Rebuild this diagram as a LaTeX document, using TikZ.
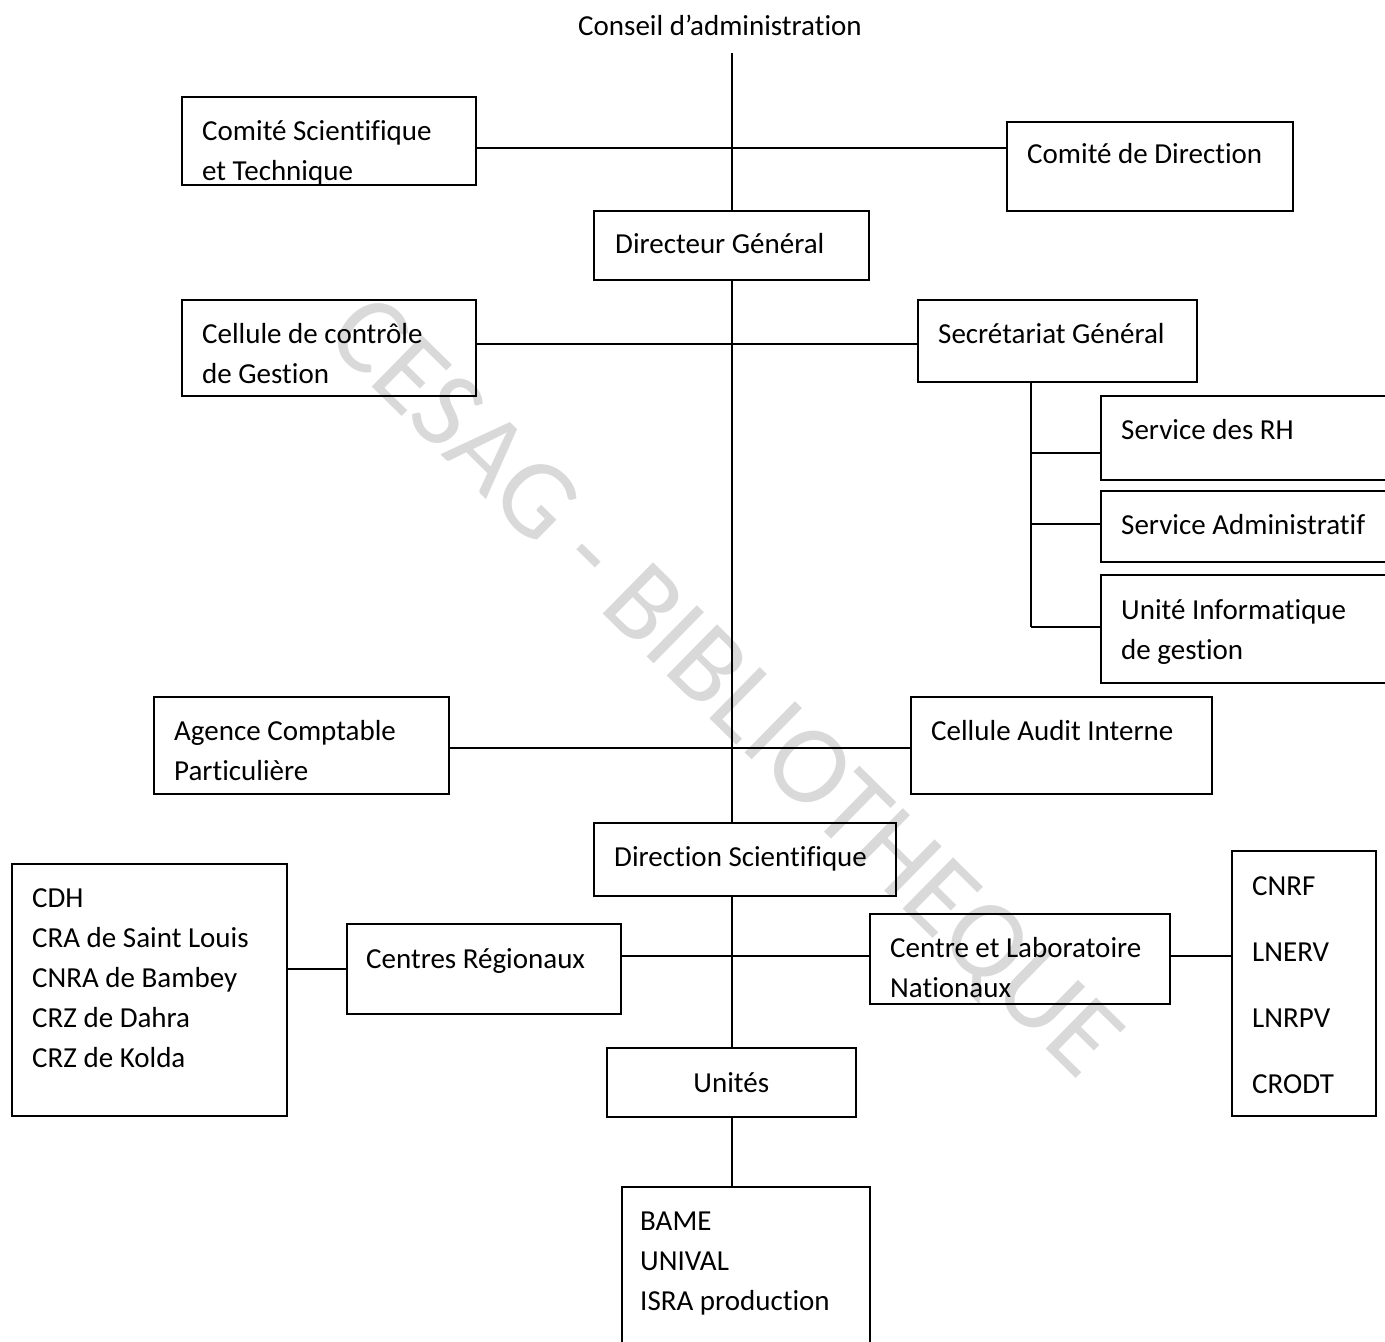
\documentclass[tikz,border=0pt]{standalone}
\usepackage{fontspec}
\setmainfont{Carlito}[Ligatures={NoCommon,NoContextual,NoRequired}]
\usetikzlibrary{positioning,calc}
\definecolor{wmGray}{RGB}{217,217,217}
\newcommand{\boxlines}[1]{\begin{tabular}[t]{@{}l@{}}#1\end{tabular}}

\begin{document}
\begin{tikzpicture}[x=1pt, y=-1pt,
  orgbox/.style={draw=black, line width=1.6pt, inner sep=0pt, anchor=north west},
  orgtext/.style={anchor=base west, inner sep=0pt, font=\fontsize{29}{40}\selectfont},
  conn/.style={draw=black, line width=1.6pt},
  wmark/.style={text=wmGray, font=\fontsize{112}{112}\selectfont, inner sep=0pt},
]
\useasboundingbox (0,0) rectangle (1385,1342);
\clip (0,0) rectangle (1385,1342);

% watermark
\node[wmark, rotate=-44.5] (wm) at (722,690) {CESAG - BIBLIOTHEQUE};

% top
\node[orgtext, anchor=base] (conseil) at (720,35) {Conseil d’administration};

\node[orgbox, minimum width=294, minimum height=88] (cst) at (181,96) {};
\node[orgtext] (cst-t) at ([shift={(21,44)}]cst.north west) {\boxlines{Comité Scientifique\\et Technique}};

\node[orgbox, minimum width=286, minimum height=89] (cdd) at (1006,121) {};
\node[orgtext] (cdd-t) at ([shift={(21,42)}]cdd.north west) {Comité de Direction};

\node[orgbox, minimum width=275, minimum height=69] (dg) at (593,210) {};
\node[orgtext] (dg-t) at ([shift={(22,43)}]dg.north west) {Directeur Général};

% second level
\node[orgbox, minimum width=294, minimum height=96] (ccg) at (181,299) {};
\node[orgtext] (ccg-t) at ([shift={(21,44)}]ccg.north west) {\boxlines{Cellule de contrôle\\de Gestion}};

\node[orgbox, minimum width=279, minimum height=82] (sg) at (917,299) {};
\node[orgtext] (sg-t) at ([shift={(21,44)}]sg.north west) {Secrétariat Général};

% services of the SG
\node[orgbox, minimum width=300, minimum height=84] (rh) at (1100,395) {};
\node[orgtext] (rh-t) at ([shift={(21,44)}]rh.north west) {Service des RH};

\node[orgbox, minimum width=300, minimum height=71] (sa) at (1100,490) {};
\node[orgtext] (sa-t) at ([shift={(21,44)}]sa.north west) {Service Administratif};

\node[orgbox, minimum width=300, minimum height=108] (uig) at (1100,574) {};
\node[orgtext] (uig-t) at ([shift={(21,45)}]uig.north west) {\boxlines{Unité Informatique\\de gestion}};

% third level
\node[orgbox, minimum width=295, minimum height=97] (acp) at (153,696) {};
\node[orgtext] (acp-t) at ([shift={(21,44)}]acp.north west) {\boxlines{Agence Comptable\\Particulière}};

\node[orgbox, minimum width=301, minimum height=97] (cai) at (910,696) {};
\node[orgtext] (cai-t) at ([shift={(21,44)}]cai.north west) {Cellule Audit Interne};

% scientific side
\node[orgbox, minimum width=302, minimum height=73] (ds) at (593,822) {};
\node[orgtext] (ds-t) at ([shift={(21,44)}]ds.north west) {Direction Scientifique};

\node[orgbox, minimum width=275, minimum height=252] (crl) at (11,863) {};
\node[orgtext] (crl-t) at ([shift={(21,44)}]crl.north west)
  {\boxlines{CDH\\CRA de Saint Louis\\CNRA de Bambey\\CRZ de Dahra\\CRZ de Kolda}};

\node[orgbox, minimum width=274, minimum height=90] (creg) at (346,923) {};
\node[orgtext] (creg-t) at ([shift={(20,45)}]creg.north west) {Centres Régionaux};

\node[orgbox, minimum width=300, minimum height=90] (cln) at (869,913) {};
\node[orgtext] (cln-t) at ([shift={(21,44)}]cln.north west) {\boxlines{Centre et Laboratoire\\Nationaux}};

\node[orgbox, minimum width=144, minimum height=265] (lab) at (1231,850) {};
\node[orgtext, font=\fontsize{29}{66}\selectfont] (lab-t) at ([shift={(21,45)}]lab.north west)
  {\boxlines{CNRF\\LNERV\\LNRPV\\CRODT}};

\node[orgbox, minimum width=249, minimum height=69] (un) at (606,1047) {};
\node[orgtext, anchor=base] (un-t) at ([yshift=-45]un.north) {Unités};

\node[orgbox, minimum width=248, minimum height=170] (bame) at (621,1186) {};
\node[orgtext] (bame-t) at ([shift={(19,44)}]bame.north west)
  {\boxlines{BAME\\UNIVAL\\ISRA production}};

% connectors
\coordinate (top) at (732,53);
\coordinate (h1) at (732,148);
\coordinate (h2) at (732,344);
\coordinate (h3) at (732,748);
\coordinate (h4) at (732,956);
\coordinate (v1) at (1031,0);
\coordinate (b1) at (1031,453);
\coordinate (b2) at (1031,524);
\coordinate (b3) at (1031,627);

\draw[conn] (top) -- (top |- dg.north);
\draw[conn] (cst.east |- h1) -- (cdd.west |- h1);
\draw[conn] (top |- dg.south) -- (top |- ds.north);
\draw[conn] (ccg.east |- h2) -- (sg.west |- h2);
\draw[conn] (acp.east |- h3) -- (cai.west |- h3);

\draw[conn] (v1 |- sg.south) -- (b3);
\draw[conn] (b1) -- (rh.west |- b1);
\draw[conn] (b2) -- (sa.west |- b2);
\draw[conn] (b3) -- (uig.west |- b3);

\draw[conn] (top |- ds.south) -- (top |- un.north);
\draw[conn] (creg.east |- h4) -- (cln.west |- h4);
\draw[conn] (crl.east |- creg.west) -- (creg.west);
\draw[conn] (cln.east |- h4) -- (lab.west |- h4);
\draw[conn] (top |- un.south) -- (top |- bame.north);
\end{tikzpicture}
\end{document}
